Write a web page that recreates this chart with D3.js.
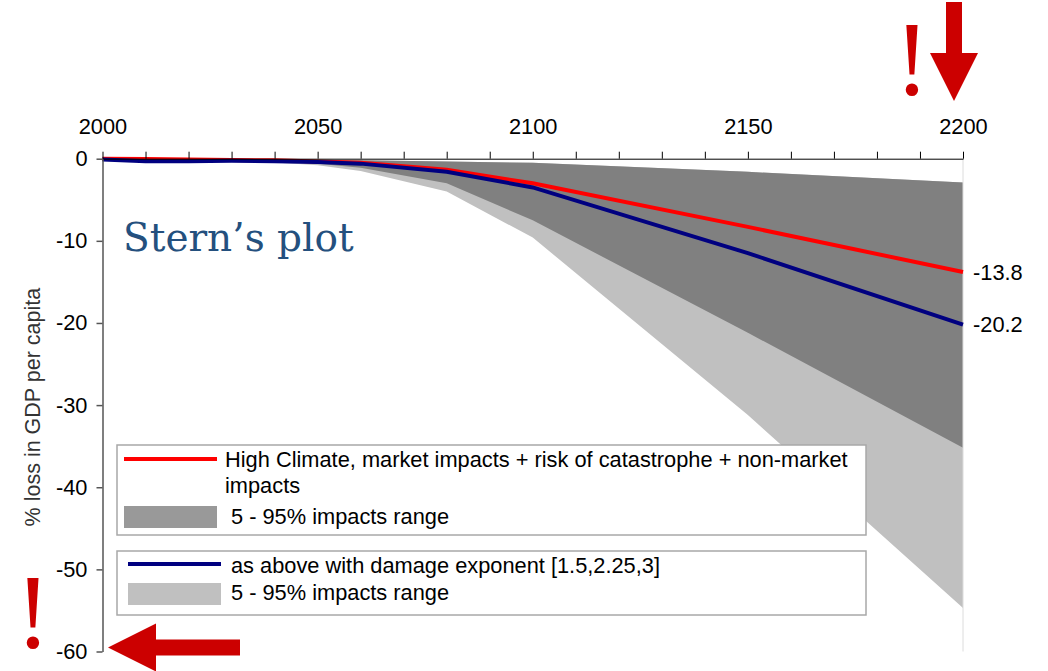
<!DOCTYPE html>
<html>
<head>
<meta charset="utf-8">
<script src="https://cdn.jsdelivr.net/npm/d3@7"></script>
<style>
    body { margin: 0; background: white; }
    text { font-family: "Liberation Sans", Arial, sans-serif; }
</style>
</head>
<body>
<div id="vis"></div>
<script>
// values
var years = [2000, 2010, 2020, 2030, 2040, 2050, 2060, 2080, 2100, 2150, 2200];
var highMean  = [0, -0.05, -0.1, -0.15, -0.2, -0.35, -0.5, -1.35, -3.0, -8.3, -13.8];
var highUpper = [0, 0, 0, -0.05, -0.1, -0.15, -0.2, -0.35, -0.5, -1.6, -2.9];
var highLower = [0, -0.05, -0.1, -0.2, -0.35, -0.6, -1.1, -3.0, -7.5, -21.2, -35.2];
var expMean  = [-0.1, -0.3, -0.3, -0.25, -0.3, -0.4, -0.6, -1.6, -3.5, -11.5, -20.2];
var expUpper = [0, 0, 0, -0.05, -0.1, -0.15, -0.2, -0.35, -0.5, -1.6, -2.9];
var expLower = [0, -0.05, -0.15, -0.25, -0.45, -0.8, -1.5, -4.0, -9.6, -31.2, -54.7];

var xTicks = d3.range(2000, 2201, 10);
var yTicks = [0, -10, -20, -30, -40, -50, -60];
var legendHigh = ['High Climate, market impacts + risk of catastrophe + non-market', 'impacts'];
var legendExp = 'as above with damage exponent [1.5,2.25,3]';
var legendRange = '5 - 95% impacts range';

const width = 1048, height = 671;
var fs = 21.8;

var x = d3.scaleLinear().domain([2000, 2200]).range([102.5, 963]);
var y = d3.scaleLinear().domain([0, -60]).range([158.7, 651.5]);

var svg = d3.select('#vis').append('svg')
    .attr('width', width)
    .attr('height', height);

function rows(lo, hi, mid){
    return years.map(function(yr, i){
        return {yr: yr, lo: lo ? lo[i] : 0, hi: hi ? hi[i] : 0, v: mid ? mid[i] : 0};
    });
}

var area = d3.area()
    .x(function(d) { return x(d.yr); })
    .y0(function(d) { return y(d.lo); })
    .y1(function(d) { return y(d.hi); });

var line = d3.line()
    .x(function(d) { return x(d.yr); })
    .y(function(d) { return y(d.v); });

// bands
svg.append('path')
    .attr('d', area(rows(expLower, expUpper)))
    .attr('fill', '#c0c0c0');

svg.append('path')
    .attr('d', area(rows(highLower, highUpper)))
    .attr('fill', '#808080');

// faint right border of plot area
svg.append('line')
    .attr('x1', x(2200)).attr('x2', x(2200))
    .attr('y1', y(0)).attr('y2', y(-60))
    .attr('stroke', '#dcdcdc')
    .attr('stroke-width', 1);

// lines
svg.append('path')
    .attr('d', line(rows(null, null, highMean)))
    .attr('fill', 'none')
    .attr('stroke', '#ff0000')
    .attr('stroke-width', 4);

svg.append('path')
    .attr('d', line(rows(null, null, expMean)))
    .attr('fill', 'none')
    .attr('stroke', '#000080')
    .attr('stroke-width', 4);

// end labels
[highMean, expMean].forEach(function(s){
    var v = s[s.length - 1];
    svg.append('text')
        .attr('x', x(2200) + 10)
        .attr('y', y(v))
        .attr('dy', '0.35em')
        .attr('font-size', fs)
        .text(v.toFixed(1));
});

// axes
var xAxisG = svg.append('g')
    .attr('transform', 'translate(0,' + y(0) + ')')
    .call(d3.axisTop(x)
        .tickValues(xTicks)
        .tickSize(7)
        .tickSizeOuter(0)
        .tickPadding(18)
        .tickFormat(function(d) { return d % 50 === 0 ? d : ''; }));
xAxisG.selectAll('text').attr('font-size', fs).attr('font-family', null).attr('fill', '#000');
xAxisG.selectAll('line, path').attr('stroke', '#000');

var yAxisG = svg.append('g')
    .attr('transform', 'translate(' + x(2000) + ',0)')
    .call(d3.axisLeft(y)
        .tickValues(yTicks)
        .tickSize(6)
        .tickSizeOuter(0)
        .tickPadding(9)
        .tickFormat(function(d) { return String(d); }));
yAxisG.selectAll('text').attr('font-size', fs).attr('font-family', null).attr('fill', '#000');
yAxisG.selectAll('line, path').attr('stroke', '#555').attr('stroke-width', 1.5);

svg.append('text')
    .attr('transform', 'translate(40,' + ((y(-15) + y(-45)) / 2 + 2) + ') rotate(-90)')
    .attr('text-anchor', 'middle')
    .attr('font-size', 21.5)
    .attr('fill', '#333')
    .text('% loss in GDP per capita');

// legends
var lg1 = svg.append('g');
lg1.append('rect')
    .attr('x', 117).attr('y', 445)
    .attr('width', 749).attr('height', 90)
    .attr('fill', 'white')
    .attr('stroke', '#a8a8a8')
    .attr('stroke-width', 1.5);
lg1.append('line')
    .attr('x1', 124).attr('x2', 217).attr('y1', 459).attr('y2', 459)
    .attr('stroke', '#ff0000').attr('stroke-width', 4);
lg1.selectAll('.t').data(legendHigh).enter().append('text')
    .attr('x', 225)
    .attr('y', function(d, i) { return 467 + i * 26; })
    .attr('font-size', fs)
    .text(function(d) { return d; });
lg1.append('rect')
    .attr('x', 124).attr('y', 506).attr('width', 93).attr('height', 22)
    .attr('fill', '#999999');
lg1.append('text')
    .attr('x', 231).attr('y', 524)
    .attr('font-size', fs)
    .text(legendRange);

var lg2 = svg.append('g');
lg2.append('rect')
    .attr('x', 117).attr('y', 551)
    .attr('width', 749).attr('height', 64)
    .attr('fill', 'white')
    .attr('stroke', '#a8a8a8')
    .attr('stroke-width', 1.5);
lg2.append('line')
    .attr('x1', 128).attr('x2', 221).attr('y1', 564).attr('y2', 564)
    .attr('stroke', '#000080').attr('stroke-width', 4);
lg2.append('text')
    .attr('x', 231).attr('y', 573)
    .attr('font-size', fs)
    .text(legendExp);
lg2.append('rect')
    .attr('x', 128).attr('y', 583).attr('width', 93).attr('height', 22)
    .attr('fill', '#c0c0c0');
lg2.append('text')
    .attr('x', 231).attr('y', 600)
    .attr('font-size', fs)
    .text(legendRange);

// title overlay
svg.append('text')
    .attr('x', 123)
    .attr('y', 251)
    .style('font-family', '"DejaVu Serif", serif')
    .attr('font-size', 39)
    .attr('fill', '#24507e')
    .text('Stern\u2019s plot');

// red annotation arrows, pointing at the 2200 end and the -60 floor
var red = '#cc0000';
var tx = x(2200) - 9, ty = 101;
svg.append('path')
    .attr('d', 'M' + (tx - 8) + ',2 H' + (tx + 8) + ' V' + (ty - 48) + ' H' + (tx + 24) +
        ' L' + tx + ',' + ty + ' L' + (tx - 24) + ',' + (ty - 48) + ' H' + (tx - 8) + ' Z')
    .attr('fill', red);
svg.append('text')
    .attr('x', 912).attr('y', 95)
    .attr('text-anchor', 'middle')
    .style('font-family', '"Liberation Serif", serif')
    .attr('font-size', 105)
    .attr('fill', red)
    .text('!');

var lx = 108, ly = y(-60) - 4;
svg.append('path')
    .attr('d', 'M' + lx + ',' + ly + ' L' + (lx + 48) + ',' + (ly - 24) + ' V' + (ly - 8) + ' H240 V' +
        (ly + 8) + ' H' + (lx + 48) + ' V' + (ly + 24) + ' Z')
    .attr('fill', red);
svg.append('text')
    .attr('x', 33).attr('y', 648)
    .attr('text-anchor', 'middle')
    .style('font-family', '"Liberation Serif", serif')
    .attr('font-size', 105)
    .attr('fill', red)
    .text('!');
</script>
</body>
</html>
